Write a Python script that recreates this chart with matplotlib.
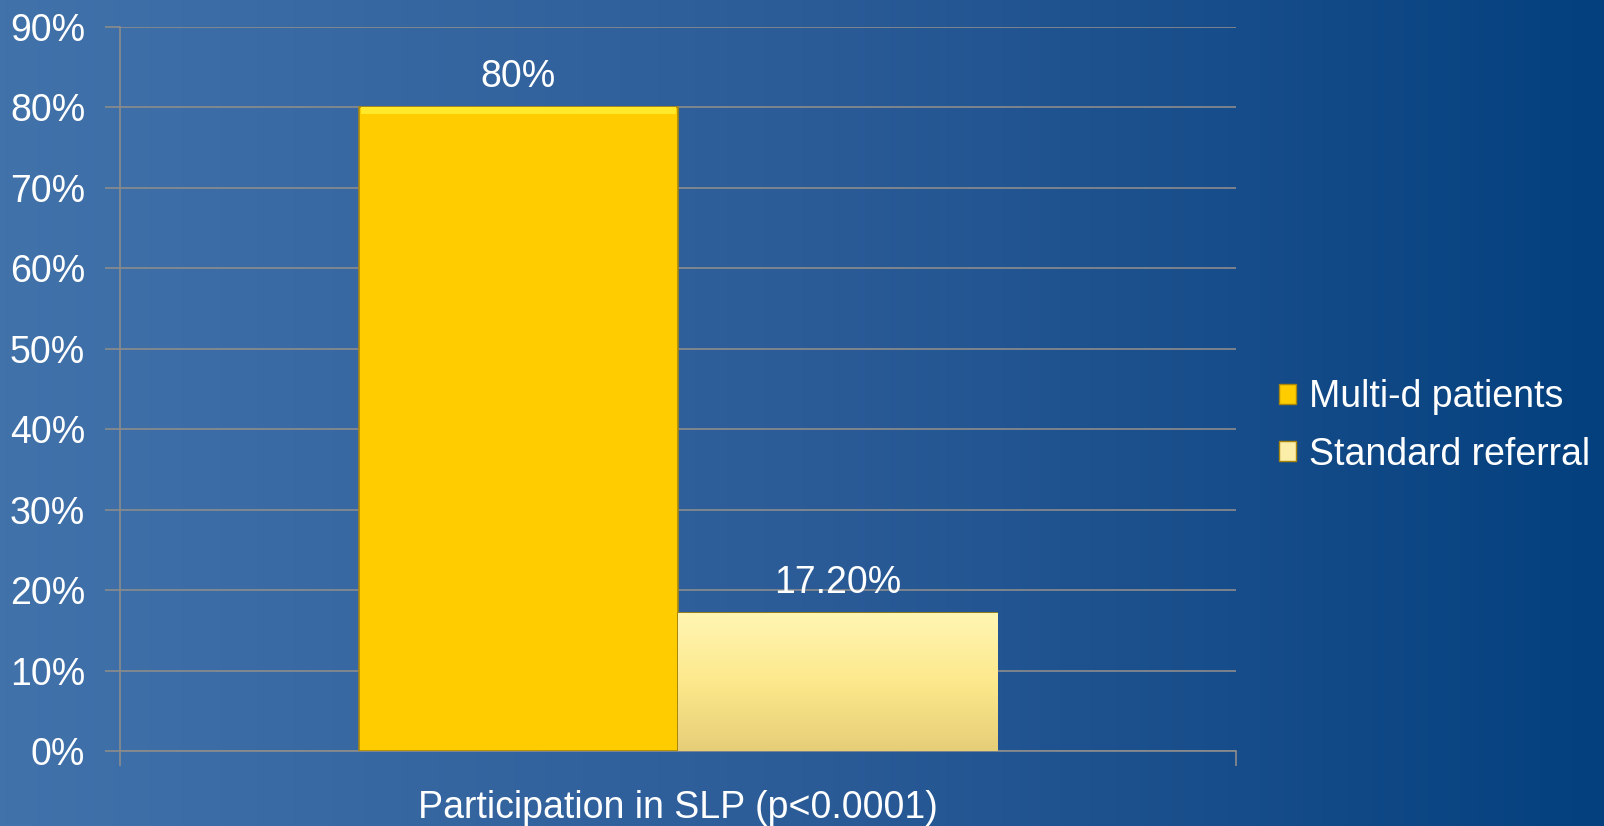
import numpy as np
import matplotlib.pyplot as plt
from matplotlib.colors import LinearSegmentedColormap
from matplotlib.patches import Patch

plt.rcParams['font.family'] = ['Liberation Sans', 'DejaVu Sans']

categoria = 'Participation in SLP (p<0.0001)'
series = ['Multi-d patients', 'Standard referral']
valores = [80.0, 17.2]
etiquetas = ['80%', '17.20%']
colores = ['#ffcc00', '#f8e79a']

fig = plt.figure(figsize=(16.04, 8.26), dpi=100)

# fondo degradado azul
bg = fig.add_axes([0, 0, 1, 1])
grad = np.linspace(0, 1, 256).reshape(1, -1)
cmap_bg = LinearSegmentedColormap.from_list('bg', ['#4172aa', '#2c5c98', '#04407e'])
bg.imshow(grad, aspect='auto', cmap=cmap_bg, extent=[0, 1, 0, 1])
bg.axis('off')

ax = fig.add_axes([120 / 1604, 1 - 751 / 826, (1236 - 120) / 1604, (751 - 27) / 826])
ax.patch.set_alpha(0)

ancho = 0.286
posiciones = [-ancho / 2, ancho / 2]
for i, (pos, val, col, etq) in enumerate(zip(posiciones, valores, colores, etiquetas)):
    barra = ax.bar(pos, val, width=ancho, color=col, edgecolor='#a8860c', linewidth=1.2,
                   label=series[i], zorder=3)[0]
    if i == 1:
        g = np.linspace(0, 1, 100).reshape(-1, 1)
        cm = LinearSegmentedColormap.from_list('b2', ['#fff6b4', '#fde98c', '#e6ce78'])
        im = ax.imshow(g, aspect='auto', cmap=cm, zorder=3.5, origin='upper',
                       extent=[pos - ancho / 2, pos + ancho / 2, 0, val])
        im.set_clip_path(barra)
    else:
        # brillo superior del bisel
        ax.bar(pos, 0.8, bottom=val - 0.8, width=ancho * 0.985, color='#ffe92a',
               linewidth=0, zorder=3.6)
    ax.text(pos, val + 1.5, etq, ha='center', va='bottom', color='white', fontsize=27, zorder=5)

ax.set_xlim(-0.5, 0.5)
ax.set_ylim(0, 90)
ax.set_yticks(np.arange(0, 91, 10))
ax.set_yticklabels([f'{v}%' for v in range(0, 91, 10)])
ax.set_xticks([-0.5, 0.5])
ax.set_xticklabels(['', ''])
ax.grid(axis='y', color='#8c8c8c', linewidth=1.2, zorder=1)
ax.set_axisbelow(True)
for lado in ['top', 'right']:
    ax.spines[lado].set_visible(False)
for lado in ['left', 'bottom']:
    ax.spines[lado].set_color('#8c8c8c')
    ax.spines[lado].set_linewidth(1.2)
ax.tick_params(axis='both', colors='#8c8c8c', length=11, width=1.2, labelcolor='white',
               labelsize=27)
ax.tick_params(axis='y', pad=14)
ax.text(0, -4.8, categoria, ha='center', va='top', color='white', fontsize=27)

manejadores = [Patch(facecolor=colores[0], edgecolor='#a8860c'),
               Patch(facecolor='#fbeea8', edgecolor='#a8860c')]
fig.legend(manejadores, series, loc='center left', bbox_to_anchor=(1279 / 1604, 1 - 426 / 826),
           frameon=False, fontsize=27, labelcolor='white', handlelength=0.45, handleheight=0.45,
           handletextpad=0.35, labelspacing=0.57, borderaxespad=0, borderpad=0)

fig.savefig('out.png', dpi=100)
